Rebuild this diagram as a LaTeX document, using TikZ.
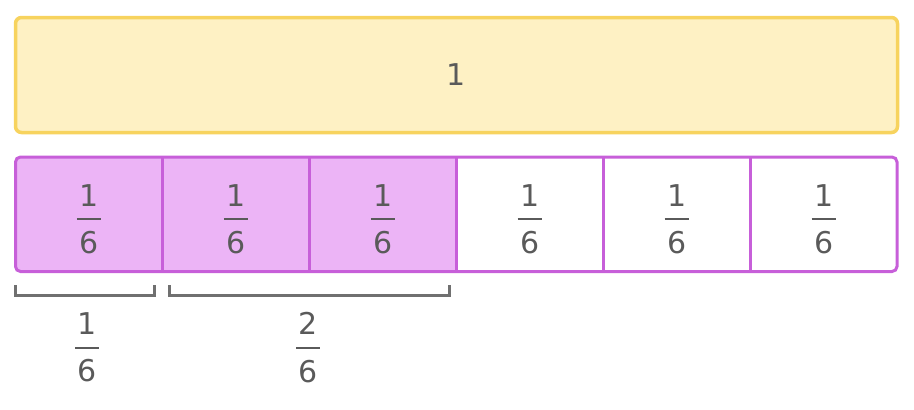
\documentclass[tikz,border=0pt]{standalone}
\usepackage{fontspec}
\setmainfont{DejaVu Sans}
\definecolor{yfill}{HTML}{FEF1C4}
\definecolor{yline}{HTML}{F7D35E}
\definecolor{pfill}{HTML}{ECB4F6}
\definecolor{pline}{HTML}{C75FD9}
\definecolor{brkc}{HTML}{707070}
\definecolor{txtc}{HTML}{5A5A5A}
\newcommand\fr[2]{\vbox{\offinterlineskip\halign{\hfil##\hfil\cr\hbox{#1}\cr\noalign{\kern12pt}\rule{24pt}{2pt}\cr\noalign{\kern11pt}\hbox{#2}\cr}}}
\begin{document}
\begin{tikzpicture}[x=1pt,y=-1pt,
  bar/.style={draw=yline,fill=yfill,line width=3.5pt,rounded corners=6pt,
    minimum width=882pt,minimum height=115pt,inner sep=0pt,
    text=txtc,font=\fontsize{30}{36}\selectfont},
  fracnode/.style={inner sep=0pt,text=txtc,font=\fontsize{30}{36}\selectfont},
  cellline/.style={draw=pline,line width=3pt},
  brk/.style={draw=brkc,line width=3pt,line join=miter}]
\useasboundingbox (0,0) rectangle (914,410);
\node[bar] (whole) at (456.5,75) {1};
\begin{scope}
  \clip[rounded corners=5pt] (15.5,157) rectangle (897,271.5);
  \fill[pfill] (15.5,157) rectangle (456.2,271.5);
\end{scope}
\draw[cellline,rounded corners=5pt] (15.5,157) rectangle (897,271.5);
\foreach \x in {162.4,309.3,456.2,603.1,750}
  \draw[cellline] (\x,157) -- (\x,271.5);
\foreach \i in {1,...,6}
  \node[fracnode] (c\i) at ({15.5+146.92*(\i-0.5)},219) {\fr{1}{6}};
\coordinate (b1a) at (15,285);
\coordinate (b1b) at (154,285);
\coordinate (b2a) at (169,285);
\coordinate (b2b) at (449.5,285);
\draw[brk] (b1a) -- ++(0,10.5) -| (b1b);
\draw[brk] (b2a) -- ++(0,10.5) -| (b2b);
\node[fracnode] (l1) at (87,347.5) {\fr{1}{6}};
\node[fracnode] (l2) at (308,347.5) {\fr{2}{6}};
\end{tikzpicture}
\end{document}
